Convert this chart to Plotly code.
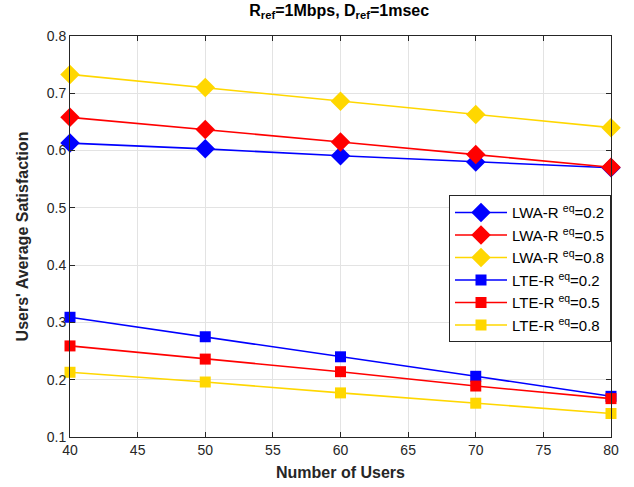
import plotly.graph_objects as go

# Number of users on the x axis
users = [40, 50, 60, 70, 80]

# Average satisfaction per scheme and R^eq value
lwa_02 = [0.613, 0.603, 0.591, 0.580, 0.570]
lwa_05 = [0.658, 0.637, 0.615, 0.593, 0.571]
lwa_08 = [0.733, 0.710, 0.686, 0.663, 0.640]
lte_02 = [0.309, 0.275, 0.240, 0.206, 0.171]
lte_05 = [0.259, 0.236, 0.214, 0.189, 0.167]
lte_08 = [0.213, 0.196, 0.177, 0.159, 0.141]

series = [
    ("LWA-R <sup>eq</sup>=0.2", lwa_02, "#0000FF", "diamond", 15),
    ("LWA-R <sup>eq</sup>=0.5", lwa_05, "#FF0000", "diamond", 15),
    ("LWA-R <sup>eq</sup>=0.8", lwa_08, "#FFD700", "diamond", 15),
    ("LTE-R <sup>eq</sup>=0.2", lte_02, "#0000FF", "square", 11),
    ("LTE-R <sup>eq</sup>=0.5", lte_05, "#FF0000", "square", 11),
    ("LTE-R <sup>eq</sup>=0.8", lte_08, "#FFD700", "square", 11),
]

x_ticks = [40, 45, 50, 55, 60, 65, 70, 75, 80]
y_ticks = [0.1, 0.2, 0.3, 0.4, 0.5, 0.6, 0.7, 0.8]

fig = go.Figure()
for name, vals, color, symbol, size in series:
    fig.add_trace(go.Scatter(
        x=users, y=vals, name=name, mode="lines+markers",
        line=dict(color=color, width=1.6),
        marker=dict(symbol=symbol, size=size, color=color, line=dict(width=0)),
        cliponaxis=False,
    ))

font_family = "Liberation Sans, Arial, sans-serif"
axis_common = dict(
    showgrid=True, gridcolor="#E3E3E3", gridwidth=1,
    showline=True, linecolor="#262626", linewidth=1, mirror="ticks",
    ticks="inside", ticklen=5, tickcolor="#262626",
    tickfont=dict(family=font_family, size=14, color="#262626"),
    zeroline=False, automargin=False,
)

fig.update_layout(
    width=634, height=487,
    margin=dict(l=70, r=23, t=36, b=50),
    paper_bgcolor="white", plot_bgcolor="white",
    font=dict(family=font_family, color="#262626"),
    title=dict(
        text="<b>R<sub>ref</sub>=1Mbps, D<sub>ref</sub>=1msec</b>",
        x=0.535, xanchor="center", y=0.99, yanchor="top",
        font=dict(family=font_family, size=16, color="black"),
    ),
    xaxis=dict(
        range=[40, 80], tickvals=x_ticks,
        title=dict(text="<b>Number of Users</b>", font=dict(size=16, color="#262626"), standoff=10),
        **axis_common,
    ),
    yaxis=dict(
        range=[0.1, 0.8], tickvals=y_ticks, tickformat=".1f",
        title=dict(text="<b>Users' Average Satisfaction</b>", font=dict(size=16, color="#262626"), standoff=14),
        **axis_common,
    ),
    legend=dict(
        x=1.0, xanchor="right", y=0.603, yanchor="top",
        bgcolor="white", bordercolor="#262626", borderwidth=1,
        font=dict(family=font_family, size=15, color="black"),
        tracegroupgap=0, itemwidth=52,
    ),
    showlegend=True,
)

fig.write_html("out.html")
